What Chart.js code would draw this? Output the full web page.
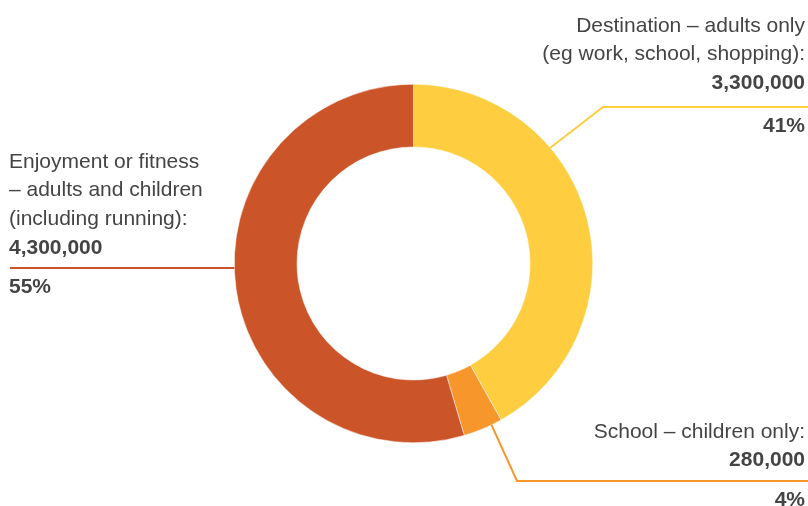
<!DOCTYPE html>
<html><head><meta charset="utf-8">
<script src="https://cdn.jsdelivr.net/npm/chart.js@4"></script>
<style>html,body{margin:0;padding:0;background:#fff}#wrap{width:808px;height:506px;position:relative}</style>
</head><body><div id="wrap"><canvas id="c" width="808" height="506"></canvas></div>
<script>
const categories = ["Destination – adults only (eg work, school, shopping)", "School – children only", "Enjoyment or fitness – adults and children (including running)"];
const values = [3300000, 280000, 4300000];
const valueLabels = ["3,300,000", "280,000", "4,300,000"];
const percentLabels = ["41%", "4%", "55%"];
const labelLines = [
  ["Destination – adults only", "(eg work, school, shopping):"],
  ["School – children only:"],
  ["Enjoyment or fitness", "– adults and children", "(including running):"]
];
const colors = ["#FFCD40", "#F7962A", "#CC5429"];

// annotation layout (leader lines + text blocks)
const callouts = [
  {frac: 0.33, elbowX: 603, lineY: 107, x0: 603, x1: 808, align: 'right', tx: 805, firstY: 26},
  {frac: 0.27, elbowX: 517, lineY: 481, x0: 517, x1: 808, align: 'right', tx: 805, firstY: 432},
  {frac: 0.535, elbowX: null, lineY: 268, x0: 10, x1: null, align: 'left', tx: 9, firstY: 162}
];

const calloutPlugin = {
  id: 'callouts',
  afterDatasetsDraw(chart) {
    const ctx = chart.ctx;
    const meta = chart.getDatasetMeta(0);
    const lh = 28.6;
    meta.data.forEach((arc, i) => {
      const c = callouts[i];
      const a = arc.startAngle + c.frac * (arc.endAngle - arc.startAngle);
      const r = arc.outerRadius;
      const sx = arc.x + Math.cos(a) * r;
      const sy = arc.y + Math.sin(a) * r;
      ctx.save();
      ctx.strokeStyle = colors[i];
      ctx.lineWidth = 2;
      ctx.beginPath();
      if (c.align === 'right') {
        ctx.moveTo(sx, sy);
        ctx.lineTo(c.elbowX, c.lineY);
        ctx.lineTo(c.x1, c.lineY);
      } else {
        ctx.moveTo(c.x0, c.lineY);
        ctx.lineTo(sx, c.lineY);
      }
      ctx.stroke();
      ctx.fillStyle = '#444444';
      ctx.textAlign = c.align;
      ctx.textBaseline = 'middle';
      let y = c.firstY;
      ctx.font = '21px "Liberation Sans", Arial, sans-serif';
      labelLines[i].forEach(t => { ctx.fillText(t, c.tx, y); y += lh; });
      ctx.font = 'bold 21px "Liberation Sans", Arial, sans-serif';
      ctx.fillText(valueLabels[i], c.tx, y);
      ctx.fillText(percentLabels[i], c.tx, c.lineY + 19);
      ctx.restore();
    });
  }
};

new Chart(document.getElementById('c'), {
  type: 'doughnut',
  data: {
    labels: categories,
    datasets: [{
      data: values,
      backgroundColor: colors,
      borderColor: '#ffffff',
      borderWidth: 0.5,
      hoverOffset: 0
    }]
  },
  options: {
    responsive: false,
    animation: false,
    cutout: '65%',
    layout: {padding: {top: 84, bottom: 63, left: 19, right: 0}},
    plugins: {legend: {display: false}, tooltip: {enabled: false}}
  },
  plugins: [calloutPlugin]
});
</script>
</body></html>
